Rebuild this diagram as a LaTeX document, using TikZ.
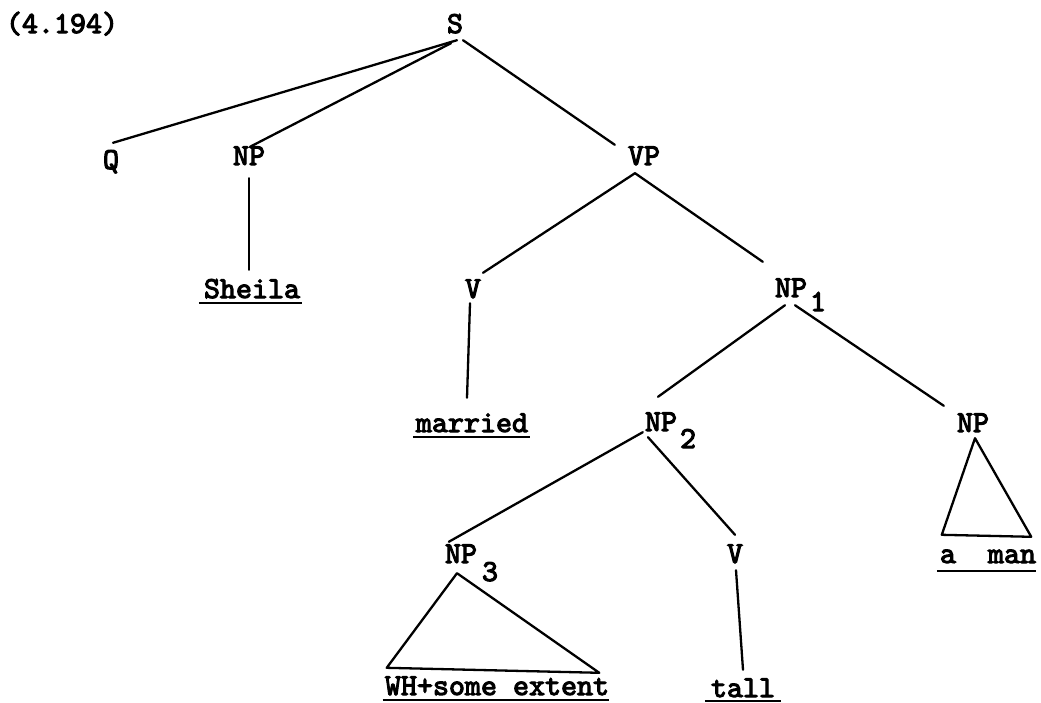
\documentclass[tikz,border=0pt]{standalone}
\usepackage{fontspec}
\newfontfamily\twfont[Extension=.otf,FakeBold=3.5]{lmmono10-regular}
\usetikzlibrary{calc}
\begin{document}
\begin{tikzpicture}[x=1pt,y=-1pt,
  lab/.style={inner sep=0pt, text height=18pt, text depth=0pt,
    font=\twfont\fontsize{30.5}{34}\selectfont},
  edge/.style={line width=2.3pt, line cap=round},
  uline/.style={line width=2pt}]
\useasboundingbox (0,0) rectangle (1041,702);
% labels
\node[lab] (title) at (62,24) {(4.194)};
\node[lab] (S) at (455,24) {S};
\node[lab] (Q) at (111,160) {Q};
\node[lab] (NPa) at (249,156) {NP};
\node[lab] (VP) at (644,156) {VP};
\node[lab] (sheila) at (252,289) {Sheila};
\node[lab] (V1) at (473,289) {V};
\node[lab] (NP1) at (791,288) {NP};
\node[lab] (sub1) at (818,302) {1};
\node[lab] (married) at (472,423) {married};
\node[lab] (NP2) at (661,422) {NP};
\node[lab] (sub2) at (688,439) {2};
\node[lab] (NPb) at (973,423) {NP};
\node[lab] (NP3) at (461,554) {NP};
\node[lab] (sub3) at (490,572) {3};
\node[lab] (V2) at (735,554) {V};
\node[lab] (wh) at (497,686) {WH+some extent};
\node[lab] (tall) at (743,688) {tall};
\node[lab] (aman) at (988,554) {a~~man};
% connectors
\draw[edge] ($(S.south)+(2,7)$) -- ($(Q.north)+(2,-8)$);
\draw[edge] ($(S.south)+(-4,10)$) -- ($(NPa.north)+(1,0)$);
\draw[edge] ($(S.south)+(8,7)$) -- ($(VP.north west)+(-13,-2)$);
\draw[edge] ($(NPa.south)+(0,13)$) -- ($(sheila.north)+(-3,-10)$);
\draw[edge] ($(VP.south)+(-9,8)$) -- ($(V1.north)+(10,-7)$);
\draw[edge] ($(VP.south)+(-9,8)$) -- ($(NP1.north west)+(-12,-17)$);
\draw[edge] ($(V1.south)+(-3,5)$) -- ($(married.north)+(-5,-16)$);
\draw[edge] ($(NP1.south)+(-6,8)$) -- ($(NP2.north)+(-3,-16)$);
\draw[edge] ($(NP1.south)+(4,8)$) -- ($(NPb.north west)+(-13,-8)$);
\draw[edge] ($(NP2.south west)+(-2,1)$) -- ($(NP3.north west)+(4,-3)$);
\draw[edge] ($(NP2.south)+(-13,6)$) -- ($(V2.north)+(0,-10)$);
\draw[edge] ($(V2.south)+(1,7)$) -- ($(tall.north)+(0,-9)$);
% triangles
\draw[edge, line join=round] ($(NP3.south)+(-4,10)$) -- ($(wh.north west)+(2,-9)$)
  -- ($(wh.north east)+(-10,-4)$) -- cycle;
\draw[edge, line join=round] ($(NPb.south)+(2,6)$) -- ($(aman.north west)+(2,-10)$)
  -- ($(aman.north east)+(-5,-8)$) -- cycle;
% underlines
\draw[uline] ($(sheila.south west)+(-5,5)$) -- ($(sheila.south east)+(2,5)$);
\draw[uline] ($(married.south west)+(-3,5)$) -- ($(married.south east)+(2,5)$);
\draw[uline] ($(wh.south west)+(-2,5)$) -- ($(wh.south east)+(0,5)$);
\draw[uline] ($(tall.south west)+(-6,4)$) -- ($(tall.south east)+(6,4)$);
\draw[uline] ($(aman.south west)+(-3,8)$) -- ($(aman.south east)+(0,8)$);
\end{tikzpicture}
\end{document}
